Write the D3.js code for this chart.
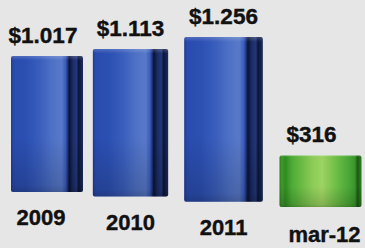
<!DOCTYPE html>
<html>
<head>
<meta charset="utf-8">
<script src="https://cdn.jsdelivr.net/npm/d3@7"></script>
<style>
  html, body { margin: 0; padding: 0; background: #e6e6e6; }
  svg { display: block; }
</style>
</head>
<body>
<svg id="chart" width="365" height="248"></svg>
<script>
// ---- data ----
const categories = ["2009", "2010", "2011", "mar-12"];
const values = [1017, 1113, 1256, 316];
const valueLabels = ["$1.017", "$1.113", "$1.256", "$316"];
const barKinds = ["blue", "blue", "blue", "green"];

// ---- layout ----
const W = 365, H = 248;
const svg = d3.select("#chart");

// slight perspective: category position grows a bit with index
const idx = d3.scalePow().exponent(1.08).domain([0, categories.length - 1]).range([47, 320.5]);
const widthScale = d3.scaleLinear().domain([0, categories.length - 1]).range([72, 82]);
// baseline tilts down to the right
const baseline = d3.scaleLinear().domain([0, W]).range([189.4, 209.5]);
// bar height scale
const hScale = d3.scaleLinear().domain([-112, 1256]).range([0, 164.8]);

const defs = svg.append("defs");

function hGrad(id, stops) {
  const g = defs.append("linearGradient").attr("id", id)
    .attr("x1", "0%").attr("x2", "100%").attr("y1", "0%").attr("y2", "0%");
  stops.forEach(([o, c]) => g.append("stop").attr("offset", o).attr("stop-color", c));
}
hGrad("blueGrad", [
  ["0%", "#1f3c96"], ["4%", "#2a4cae"], ["20%", "#2b4fb2"], ["40%", "#3a5ebd"],
  ["58%", "#5072c6"], ["70%", "#5879ca"], ["76%", "#3a5cb8"], ["79%", "#1a2f78"],
  ["81%", "#0b1330"], ["86%", "#1b2d68"], ["91%", "#22377a"], ["94%", "#0c1534"],
  ["100%", "#1c2c62"]
]);
hGrad("greenGrad", [
  ["0%", "#2d7d1c"], ["3%", "#3f9a2a"], ["7%", "#2f8a22"], ["15%", "#4cab35"],
  ["40%", "#8bcb56"], ["52%", "#9dd362"], ["70%", "#6bbd45"], ["85%", "#49a536"],
  ["92%", "#3a962c"], ["95%", "#1d5a14"], ["100%", "#2f7d22"]
]);
// vertical shading overlay
const vg = defs.append("linearGradient").attr("id", "vShade")
  .attr("x1", "0%").attr("x2", "0%").attr("y1", "0%").attr("y2", "100%");
[["0%", "#ffffff", 0.18], ["3%", "#ffffff", 0.0], ["60%", "#000000", 0.0], ["95%", "#000000", 0.15], ["100%", "#000000", 0.25]]
  .forEach(([o, c, a]) => vg.append("stop").attr("offset", o).attr("stop-color", c).attr("stop-opacity", a));

const data = categories.map((c, i) => {
  const cx = idx(i);
  const w = widthScale(i);
  const bottom = baseline(cx);
  const top = bottom - hScale(values[i]);
  return { c, i, cx, w, bottom, top, v: values[i], label: valueLabels[i], kind: barKinds[i] };
});

const bars = svg.append("g").selectAll("g.bar").data(data).join("g").attr("class", "bar");

bars.append("rect")
  .attr("x", d => d.cx - d.w / 2)
  .attr("y", d => d.top)
  .attr("width", d => d.w)
  .attr("height", d => d.bottom - d.top)
  .attr("rx", 2)
  .attr("fill", d => d.kind === "blue" ? "url(#blueGrad)" : "url(#greenGrad)");

bars.append("rect")
  .attr("x", d => d.cx - d.w / 2)
  .attr("y", d => d.top)
  .attr("width", d => d.w)
  .attr("height", d => d.bottom - d.top)
  .attr("rx", 2)
  .attr("fill", "url(#vShade)");

const font = "'Liberation Sans', Arial, sans-serif";

svg.append("g").selectAll("text.val").data(data).join("text")
  .attr("class", "val")
  .attr("x", d => d.cx - (d.i === 3 ? 9 : (d.i === 0 ? 4 : 0)))
  .attr("y", d => d.top - 13)
  .attr("text-anchor", "middle")
  .attr("font-family", font)
  .attr("font-weight", "bold")
  .attr("font-size", 22.5)
  .attr("fill", "#111")
  .attr("stroke", "#111")
  .attr("stroke-width", 0.4)
  .text(d => d.label);

svg.append("g").selectAll("text.cat").data(data).join("text")
  .attr("class", "cat")
  .attr("x", d => d.cx - (d.i === 0 ? 6 : 0) + (d.i === 3 ? 4 : 0))
  .attr("y", d => d.bottom + (d.i === 3 ? 35 : 33))
  .attr("text-anchor", "middle")
  .attr("font-family", font)
  .attr("font-weight", "bold")
  .attr("font-size", 22)
  .attr("fill", "#111")
  .attr("stroke", "#111")
  .attr("stroke-width", 0.4)
  .text(d => d.c);
</script>
</body>
</html>
